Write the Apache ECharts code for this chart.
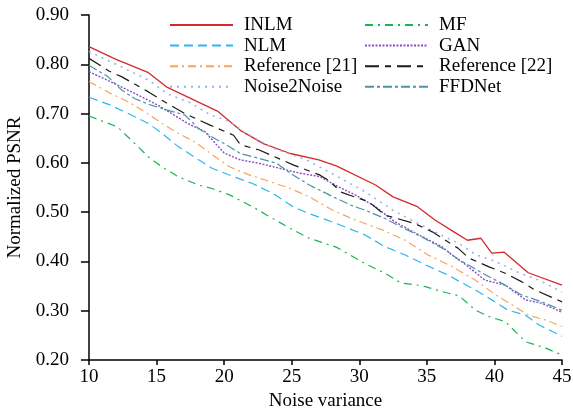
<!DOCTYPE html>
<html>
<head>
<meta charset="utf-8">
<script src="https://cdn.jsdelivr.net/npm/echarts@6/dist/echarts.min.js"></script>
<style>
  html, body { margin: 0; padding: 0; background: #fff; }
  #chart { width: 573px; height: 410px; }
</style>
</head>
<body>
<div id="chart"></div>
<script>
// [noise variance, normalized PSNR]
const inlm = [[10,0.836],[12,0.810],[14.4,0.783],[15.8,0.753],[19.5,0.705],[21.2,0.666],[22.9,0.639],[24.9,0.619],[27,0.606],[28.3,0.594],[31.2,0.555],[32.5,0.531],[34.3,0.511],[35.6,0.484],[37,0.460],[38,0.443],[39,0.447],[39.8,0.417],[40.7,0.419],[42.5,0.377],[45,0.352]];
const nlm = [[10,0.733],[11.6,0.717],[12.9,0.700],[14.4,0.680],[15.4,0.660],[16.6,0.633],[17.8,0.612],[19.1,0.589],[20.7,0.572],[22.1,0.558],[23.6,0.538],[25.1,0.511],[26.3,0.497],[28.4,0.476],[30.4,0.454],[31.9,0.430],[33.4,0.413],[34.9,0.393],[36.6,0.372],[37.5,0.358],[38.6,0.342],[39.8,0.322],[41,0.301],[42.3,0.291],[43.3,0.271],[45,0.248]];
const ref21 = [[10,0.765],[11.6,0.741],[12.9,0.724],[14.1,0.704],[15.4,0.680],[16.6,0.660],[17.8,0.643],[19.1,0.617],[20.4,0.592],[21.9,0.575],[23.4,0.562],[24.9,0.548],[26.3,0.531],[28.1,0.503],[29.7,0.484],[31.7,0.464],[33.4,0.443],[35.1,0.413],[36.9,0.389],[38.6,0.362],[40.1,0.332],[41.3,0.312],[42.5,0.291],[43.8,0.281],[45,0.268]];
const noise2noise = [[10,0.826],[12,0.800],[14.4,0.768],[15.8,0.740],[17.5,0.722],[19,0.697],[20.3,0.685],[21.5,0.662],[23.6,0.630],[26.1,0.606],[28.4,0.572],[30.4,0.542],[32.6,0.502],[34.5,0.475],[36.3,0.450],[37.3,0.438],[38.6,0.414],[40.1,0.400],[41.8,0.377],[43.3,0.362],[45,0.338]];
const mf = [[10,0.695],[12.1,0.673],[13.4,0.639],[14.4,0.612],[15.4,0.592],[16.6,0.572],[18.1,0.555],[19.1,0.548],[20.4,0.535],[22.1,0.511],[23.6,0.487],[24.9,0.467],[26.3,0.447],[28.3,0.429],[30.4,0.396],[31.9,0.376],[33.1,0.356],[34.6,0.351],[36.1,0.339],[37.4,0.330],[38.6,0.301],[39.6,0.288],[40.8,0.278],[42.3,0.237],[43.8,0.224],[45,0.210]];
const gan = [[10,0.785],[12.1,0.758],[13.6,0.738],[15.1,0.717],[16.3,0.697],[17.3,0.680],[18.6,0.663],[19.4,0.638],[20,0.620],[21.2,0.606],[22.6,0.599],[24.1,0.589],[25.6,0.579],[27.1,0.572],[28.4,0.552],[29.7,0.535],[31.2,0.511],[32.6,0.481],[34.4,0.454],[36.1,0.430],[37.1,0.408],[37.8,0.395],[39.3,0.362],[40.8,0.352],[42.3,0.322],[43.5,0.315],[45,0.297]];
const ref22 = [[10,0.812],[11.5,0.786],[12.4,0.775],[14.4,0.744],[15.4,0.727],[17.1,0.700],[19,0.676],[20.7,0.656],[21.2,0.637],[22.6,0.626],[25.1,0.596],[27.1,0.575],[27.7,0.565],[28.7,0.540],[30.7,0.521],[31.9,0.494],[34.1,0.477],[35.4,0.460],[37.3,0.427],[38.1,0.407],[39.6,0.389],[40.8,0.376],[42,0.359],[43,0.342],[45,0.318]];
const ffdnet = [[10,0.798],[11.4,0.775],[12.4,0.748],[13.4,0.730],[14.6,0.717],[15.8,0.707],[17.1,0.697],[18.1,0.670],[19,0.654],[20.2,0.636],[21.2,0.619],[22.6,0.609],[23.9,0.599],[24.9,0.579],[26.3,0.555],[28.3,0.528],[29.4,0.514],[30.7,0.501],[31.9,0.487],[33.1,0.470],[34.6,0.450],[36.4,0.423],[37.3,0.405],[38.3,0.389],[39.6,0.369],[40.8,0.352],[42,0.332],[43.5,0.318],[45,0.301]];

const legendLeft = ['INLM', 'NLM', 'Reference [21]', 'Noise2Noise'];
const legendRight = ['MF', 'GAN', 'Reference [22]', 'FFDNet'];

var chart = echarts.init(document.getElementById('chart'));
const font = "'Liberation Serif', 'Times New Roman', serif";

function mkLine(name, data, color, type, width) {
  return {
    name: name,
    type: 'line',
    data: data,
    symbol: 'none',
    smooth: false,
    animation: false,
    lineStyle: { color: color, type: type, width: width || 1.2 },
    itemStyle: { color: color }
  };
}

const legendBase = {
  orient: 'vertical',
  top: 10,
  itemWidth: 63,
  itemHeight: 14,
  itemGap: 0.6,
  itemStyle: { opacity: 0 },
  textStyle: { fontFamily: font, fontSize: 19, color: '#000', lineHeight: 20, padding: [0, 0, 0, 6] }
};

var option = {
  backgroundColor: '#fff',
  animation: false,
  grid: { left: 89, right: 11, top: 15, bottom: 50, outerBoundsMode: 'none', containLabel: false },
  legend: [
    Object.assign({}, legendBase, { left: 164, data: legendLeft }),
    Object.assign({}, legendBase, { left: 359, data: legendRight })
  ],
  xAxis: {
    type: 'value',
    min: 10,
    max: 45,
    interval: 5,
    name: 'Noise variance',
    nameLocation: 'middle',
    nameGap: 27,
    nameTextStyle: { fontFamily: font, fontSize: 19, color: '#000' },
    axisLine: { lineStyle: { color: '#000', width: 1.5 } },
    axisTick: { inside: false, length: 5, lineStyle: { color: '#000', width: 1.5 } },
    axisLabel: { fontFamily: font, fontSize: 19, color: '#000', margin: 8 },
    splitLine: { show: false }
  },
  yAxis: {
    type: 'value',
    min: 0.2,
    max: 0.9,
    interval: 0.1,
    name: 'Normalized PSNR',
    nameLocation: 'middle',
    nameGap: 59,
    nameTextStyle: { fontFamily: font, fontSize: 19, color: '#000' },
    axisLine: { show: true, lineStyle: { color: '#000', width: 1.5 } },
    axisTick: { show: true, inside: false, length: 8, lineStyle: { color: '#000', width: 1.5 } },
    axisLabel: {
      fontFamily: font, fontSize: 19, color: '#000', margin: 20,
      formatter: function (v) { return v.toFixed(2); }
    },
    splitLine: { show: false }
  },
  series: [
    mkLine('INLM', inlm, '#d42a2a', 'solid', 1.3),
    mkLine('NLM', nlm, '#2fb6ef', [9, 5]),
    mkLine('Reference [21]', ref21, '#f7a45d', [8, 4, 2, 4]),
    mkLine('Noise2Noise', noise2noise, '#8fb4e8', [2, 5], 1.5),
    mkLine('MF', mf, '#19b552', [8, 5, 2, 5]),
    mkLine('GAN', gan, '#8a4dc8', [2, 1.5], 1.4),
    mkLine('Reference [22]', ref22, '#1a1a1a', [14, 6, 6, 6]),
    mkLine('FFDNet', ffdnet, '#4a94a4', [9, 3, 3, 3])
  ]
};

option && chart.setOption(option);
</script>
</body>
</html>
